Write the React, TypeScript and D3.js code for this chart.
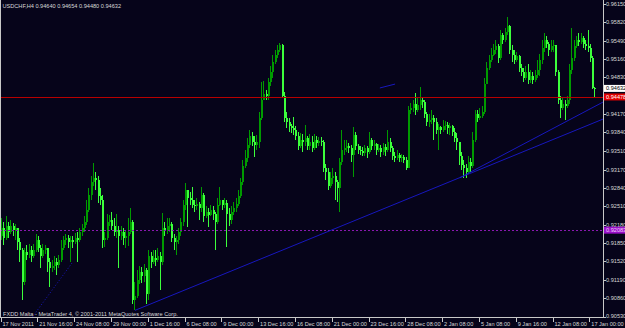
import React from "react";
import * as d3 from "d3";

const W = 625;
const H = 328;
const PLOT_RIGHT = 603;
const PLOT_BOTTOM = 317;

const symbolTitle = "USDCHF,H4  0.94640 0.94654 0.94480 0.94632";
const copyright = "FXDD Malta - MetaTrader 4, \u00a9 2001-2011 MetaQuotes Software Corp.";

const firstOpen = 0.9197;

const closes = [
  0.9212, 0.9194, 0.9215, 0.9205, 0.9215, 0.9208, 0.9212, 0.9187, 0.9172, 0.9115,
  0.9169, 0.9163, 0.9172, 0.9161, 0.9172, 0.919, 0.9176, 0.9161, 0.9172, 0.9176,
  0.9151, 0.914, 0.9143, 0.9151, 0.9145, 0.9154, 0.9176, 0.919, 0.9194, 0.9187,
  0.919, 0.9187, 0.9194, 0.919, 0.9205, 0.9212, 0.9223, 0.9244, 0.9271, 0.9295,
  0.9302, 0.9298, 0.9269, 0.9262, 0.919, 0.9194, 0.9223, 0.9226, 0.9215, 0.9205,
  0.9208, 0.9197, 0.9205, 0.9194, 0.9197, 0.9205, 0.9223, 0.9082, 0.9089, 0.9118,
  0.9133, 0.9125, 0.9136, 0.9093, 0.9161, 0.9151, 0.9158, 0.9154, 0.9161, 0.9151,
  0.9212, 0.9208, 0.9215, 0.9219, 0.9194, 0.9187, 0.919, 0.9205, 0.9223, 0.9253,
  0.928, 0.9266, 0.9262, 0.9253, 0.9251, 0.9255, 0.9248, 0.9271, 0.9233, 0.9241,
  0.9235, 0.9244, 0.9237, 0.9223, 0.9253, 0.9262, 0.9253, 0.9257, 0.9237, 0.9226,
  0.9241, 0.9248, 0.9255, 0.9269, 0.9295, 0.9323, 0.9338, 0.9361, 0.9377, 0.9367,
  0.9361, 0.9367, 0.941, 0.9442, 0.9453, 0.9449, 0.9475, 0.9493, 0.9511, 0.9523,
  0.9532, 0.9541, 0.9449, 0.941, 0.9403, 0.9395, 0.9392, 0.9388, 0.9377, 0.9359,
  0.937, 0.9367, 0.9374, 0.9359, 0.9367, 0.9356, 0.937, 0.9365, 0.9368, 0.9367,
  0.932, 0.9313, 0.9287, 0.9302, 0.9305, 0.9295, 0.9284, 0.9331, 0.9352, 0.9356,
  0.9359, 0.9356, 0.9343, 0.9379, 0.9359, 0.9352, 0.935, 0.9347, 0.9356, 0.9349,
  0.937, 0.9359, 0.9363, 0.9352, 0.9356, 0.9349, 0.9358, 0.9352, 0.9367, 0.9356,
  0.9341, 0.9338, 0.9343, 0.9338, 0.934, 0.9334, 0.932, 0.9424, 0.9428, 0.9435,
  0.9424, 0.9433, 0.9442, 0.9439, 0.9417, 0.9403, 0.9406, 0.941, 0.9403, 0.9388,
  0.9394, 0.9388, 0.9395, 0.9397, 0.9392, 0.9395, 0.9385, 0.9374, 0.9367, 0.9341,
  0.9325, 0.932, 0.9313, 0.9331, 0.9323, 0.937, 0.9417, 0.941, 0.9413, 0.9421,
  0.9471, 0.95, 0.9514, 0.9523, 0.9532, 0.9539, 0.9518, 0.9559, 0.955, 0.9565,
  0.9575, 0.9532, 0.9523, 0.9514, 0.9521, 0.95, 0.9493, 0.9482, 0.9493, 0.9478,
  0.9485, 0.9478, 0.9487, 0.9496, 0.9514, 0.9536, 0.955, 0.9543, 0.9532, 0.9539,
  0.9541, 0.9493, 0.9442, 0.9428, 0.9435, 0.9431, 0.9442, 0.9496, 0.9518, 0.9539,
  0.955, 0.9547, 0.9554, 0.9543, 0.9539, 0.9536, 0.9518, 0.9464, 0.94632,
];

const highs = [
  0.923, 0.9223, 0.9233, 0.9223, 0.9226, 0.9221, 0.9219, 0.9212, 0.9194, 0.9176,
  0.9176, 0.9181, 0.9183, 0.9179, 0.9183, 0.9201, 0.9197, 0.9181, 0.9183, 0.9181,
  0.9176, 0.9158, 0.9154, 0.9161, 0.9158, 0.9163, 0.919, 0.9197, 0.9201, 0.9199,
  0.9197, 0.9197, 0.9203, 0.9205, 0.9212, 0.9219, 0.9233, 0.9262, 0.9284, 0.9305,
  0.9329, 0.9313, 0.9305, 0.9284, 0.9271, 0.9205, 0.9237, 0.9235, 0.9241, 0.923,
  0.9237, 0.9215, 0.9215, 0.9212, 0.9208, 0.923, 0.9248, 0.9226, 0.9115, 0.9136,
  0.9143, 0.9142, 0.9147, 0.914, 0.9172, 0.9169, 0.9172, 0.9172, 0.9176, 0.9169,
  0.9239, 0.9223, 0.923, 0.923, 0.9223, 0.9201, 0.9197, 0.9212, 0.923, 0.9262,
  0.9293, 0.928, 0.9277, 0.9286, 0.9262, 0.9266, 0.9259, 0.9286, 0.9275, 0.9251,
  0.9248, 0.9253, 0.9251, 0.9241, 0.9266, 0.9286, 0.9262, 0.9266, 0.9262, 0.9248,
  0.9251, 0.9259, 0.9266, 0.928, 0.9302, 0.9334, 0.9352, 0.9374, 0.9388, 0.9385,
  0.9377, 0.9379, 0.9421, 0.9475, 0.9476, 0.946, 0.9482, 0.9503, 0.9523, 0.9532,
  0.9541, 0.9545, 0.9543, 0.9457, 0.9421, 0.941, 0.9399, 0.9412, 0.9395, 0.9385,
  0.9383, 0.9381, 0.9397, 0.9377, 0.9381, 0.9377, 0.9381, 0.9377, 0.9376, 0.9376,
  0.937, 0.9327, 0.932, 0.9313, 0.932, 0.9313, 0.9298, 0.9338, 0.9388, 0.937,
  0.937, 0.9365, 0.9361, 0.9394, 0.9385, 0.9363, 0.9359, 0.9358, 0.9361, 0.9359,
  0.9385, 0.9374, 0.937, 0.9365, 0.9363, 0.9361, 0.9365, 0.9363, 0.9388, 0.9374,
  0.9359, 0.9349, 0.9352, 0.9347, 0.9345, 0.9343, 0.934, 0.9431, 0.9437, 0.9442,
  0.9455, 0.9446, 0.9466, 0.9448, 0.9442, 0.9421, 0.9417, 0.9424, 0.9415, 0.941,
  0.9399, 0.9395, 0.9406, 0.9404, 0.9403, 0.9401, 0.9397, 0.9392, 0.9383, 0.9367,
  0.9349, 0.9334, 0.9327, 0.9341, 0.9338, 0.9385, 0.9424, 0.9424, 0.9428, 0.9431,
  0.9482, 0.9511, 0.9523, 0.9536, 0.9543, 0.955, 0.9543, 0.9568, 0.9563, 0.9572,
  0.9592, 0.9577, 0.9541, 0.9532, 0.9529, 0.9523, 0.9507, 0.95, 0.9503, 0.9507,
  0.9496, 0.9493, 0.9496, 0.9514, 0.9525, 0.955, 0.9563, 0.9557, 0.9547, 0.955,
  0.955, 0.9541, 0.9496, 0.9449, 0.9446, 0.9442, 0.9449, 0.9507, 0.9572, 0.955,
  0.9557, 0.9563, 0.9563, 0.9557, 0.955, 0.9568, 0.9543, 0.9521, 0.94654,
];

const lows = [
  0.919, 0.9181, 0.919, 0.9194, 0.9201, 0.9197, 0.919, 0.9172, 0.9151, 0.9082,
  0.9109, 0.9154, 0.9158, 0.9151, 0.9158, 0.9169, 0.9169, 0.914, 0.9158, 0.9165,
  0.9133, 0.9106, 0.9133, 0.9136, 0.9127, 0.914, 0.9151, 0.9172, 0.9181, 0.9176,
  0.9151, 0.9176, 0.9183, 0.9151, 0.9187, 0.9197, 0.9205, 0.9217, 0.9241, 0.9262,
  0.9287, 0.928, 0.9257, 0.9253, 0.9176, 0.9178, 0.919, 0.9215, 0.9208, 0.9197,
  0.9194, 0.914, 0.919, 0.9181, 0.9176, 0.9179, 0.9201, 0.9075, 0.9064, 0.9086,
  0.9111, 0.9113, 0.9115, 0.9075, 0.9082, 0.914, 0.9147, 0.9143, 0.9151, 0.91,
  0.9145, 0.9197, 0.9201, 0.9205, 0.9187, 0.9172, 0.9163, 0.9183, 0.9197, 0.9215,
  0.9244, 0.9214, 0.9253, 0.9248, 0.9241, 0.9244, 0.9226, 0.9241, 0.9223, 0.923,
  0.9214, 0.9233, 0.9226, 0.9172, 0.9219, 0.9251, 0.9244, 0.9248, 0.9178, 0.9215,
  0.9219, 0.9235, 0.9241, 0.9251, 0.9266, 0.9289, 0.932, 0.9331, 0.9356, 0.9359,
  0.934, 0.9352, 0.9356, 0.9406, 0.9442, 0.9442, 0.9442, 0.9467, 0.9482, 0.9507,
  0.9518, 0.9529, 0.9446, 0.9403, 0.9392, 0.9385, 0.9383, 0.9379, 0.937, 0.9352,
  0.9356, 0.9349, 0.9359, 0.9352, 0.9352, 0.9349, 0.9352, 0.9356, 0.9359, 0.9359,
  0.9313, 0.9298, 0.928, 0.9284, 0.9291, 0.9262, 0.9259, 0.9241, 0.9325, 0.9343,
  0.9349, 0.9347, 0.9331, 0.9304, 0.9352, 0.9345, 0.9343, 0.9341, 0.9341, 0.9338,
  0.9345, 0.9352, 0.9352, 0.9343, 0.9349, 0.934, 0.9343, 0.9341, 0.9349, 0.9349,
  0.9334, 0.9331, 0.9334, 0.9331, 0.9331, 0.9329, 0.9316, 0.932, 0.9417, 0.9421,
  0.9415, 0.9421, 0.9424, 0.9428, 0.941, 0.9395, 0.9394, 0.9399, 0.937, 0.9381,
  0.9352, 0.9381, 0.9385, 0.9388, 0.9381, 0.9379, 0.9377, 0.9367, 0.9352, 0.9325,
  0.9316, 0.9302, 0.9302, 0.9309, 0.9313, 0.932, 0.9367, 0.9403, 0.9406, 0.941,
  0.9417, 0.9471, 0.9496, 0.9511, 0.9521, 0.9525, 0.9509, 0.9514, 0.9543, 0.9547,
  0.9559, 0.9525, 0.9511, 0.9507, 0.9511, 0.9493, 0.9485, 0.9475, 0.9478, 0.9471,
  0.9473, 0.9471, 0.9475, 0.9482, 0.9485, 0.9507, 0.9529, 0.9536, 0.9521, 0.9529,
  0.9529, 0.9485, 0.9435, 0.941, 0.9424, 0.9406, 0.9428, 0.9435, 0.949, 0.9512,
  0.9536, 0.9539, 0.9543, 0.9536, 0.9532, 0.9529, 0.9511, 0.9462, 0.9448,
];

const timeLabels = [
  "17 Nov 2011", "21 Nov 16:00", "24 Nov 08:00", "29 Nov 00:00", "1 Dec 16:00",
  "6 Dec 08:00", "9 Dec 00:00", "13 Dec 16:00", "16 Dec 08:00", "21 Dec 00:00",
  "23 Dec 16:00", "28 Dec 08:00", "2 Jan 08:00", "5 Jan 08:00", "9 Jan 16:00",
  "12 Jan 08:00", "17 Jan 00:00",
];
const barsPerLabel = 16;

const priceTicks = [
  0.9615, 0.9582, 0.9549, 0.9516, 0.9483, 0.9417, 0.9384, 0.9351, 0.9317,
  0.9284, 0.9251, 0.9218, 0.9185, 0.9152, 0.9119, 0.9086, 0.9053,
];

const bidPrice = 0.94632;
const redLevel = 0.94478;
const purpleLevel = 0.92083;

// trend lines: [barIndex, price] pairs
const trendA = [[57.8, 0.9064], [261.3, 0.9408]];
const trendB = [[199.1, 0.93027], [261.3, 0.94386]];
const trendDotted = [[13.2, 0.9052], [30.4, 0.9149]];
const shortSegment = [[164.3, 0.9464], [170.9, 0.9471]];

const BG = "#06041a";
const BULL = "#009a00";
const BEAR = "#3cff3c";
const TXT = "#d8d8d8";
const FONT = "'Liberation Sans', Arial, sans-serif";
const FS = 5.6;

export default function App() {
  const x = d3.scaleLinear().domain([0, 256]).range([0.5, 589.3]);
  const y = d3.scaleLinear().domain([0.9053, 0.9615]).range([316.5, 4]);

  const bars = closes.map((c, i) => {
    const o = i === 0 ? firstOpen : closes[i - 1];
    return { i, o, c, h: highs[i], l: lows[i] };
  });

  const line = (pts: number[][], extend: boolean) => {
    const [a, b] = pts;
    const x1 = x(a[0]) + 1.5, y1 = y(a[1]);
    let x2 = x(b[0]) + 1.5, y2 = y(b[1]);
    if (extend) {
      const s = (y2 - y1) / (x2 - x1);
      y2 = y1 + s * (PLOT_RIGHT - x1);
      x2 = PLOT_RIGHT;
    }
    return { x1, y1, x2, y2 };
  };

  const lA = line(trendA, true);
  const lB = line(trendB, true);
  const lD = line(trendDotted, false);
  const lS = line(shortSegment, false);

  const boxes = [
    { v: bidPrice, fill: "#ffffff", txt: "#000000" },
    { v: redLevel, fill: "#e00000", txt: "#ffffff" },
    { v: purpleLevel, fill: "#9a10c8", txt: "#f0d0ff" },
  ];

  return (
    <svg
      width={W}
      height={H}
      style={{ position: "absolute", left: 0, top: 0, display: "block" }}
      fontFamily={FONT}
    >
      <defs>
        <clipPath id="plot">
          <rect x={0} y={0} width={PLOT_RIGHT} height={PLOT_BOTTOM} />
        </clipPath>
      </defs>
      <rect x={0} y={0} width={W} height={H} fill={BG} />
      <g clipPath="url(#plot)" shapeRendering="crispEdges">
        {bars.map((b) => {
          const cx = Math.round(x(b.i) + 1.5);
          const up = b.c >= b.o;
          const col = up ? BULL : BEAR;
          const top = y(Math.max(b.o, b.c));
          const bh = Math.max(1, Math.abs(y(b.o) - y(b.c)));
          return (
            <g key={b.i}>
              <rect x={cx - 1} y={y(b.h)} width={1} height={Math.max(1, y(b.l) - y(b.h))} fill={col} />
              <rect x={cx - 1} y={top} width={2} height={bh} fill={col} />
            </g>
          );
        })}
      </g>
      <g clipPath="url(#plot)">
        <line x1={0} x2={PLOT_RIGHT} y1={Math.round(y(redLevel)) + 0.5} y2={Math.round(y(redLevel)) + 0.5} stroke="#b80000" strokeWidth={1} />
        <line x1={0} x2={PLOT_RIGHT} y1={Math.round(y(purpleLevel)) + 0.5} y2={Math.round(y(purpleLevel)) + 0.5} stroke="#8a18b0" strokeWidth={1} strokeDasharray="2,2" />
        <line {...lA} stroke="#1a1ad0" strokeWidth={0.9} />
        <line {...lB} stroke="#1a1ad0" strokeWidth={0.9} />
        <line {...lD} stroke="#1a1ad0" strokeWidth={0.9} strokeDasharray="1,2" />
        <line {...lS} stroke="#1a1ad0" strokeWidth={0.9} />
      </g>

      {/* axes */}
      <g shapeRendering="crispEdges" stroke="#c8c8c8">
        <line x1={PLOT_RIGHT + 0.5} x2={PLOT_RIGHT + 0.5} y1={0} y2={PLOT_BOTTOM + 1} />
        <line x1={0} x2={PLOT_RIGHT + 1} y1={PLOT_BOTTOM + 0.5} y2={PLOT_BOTTOM + 0.5} />
        <line x1={0.5} x2={0.5} y1={0} y2={PLOT_BOTTOM} />
        {priceTicks.map((p) => (
          <line key={p} x1={PLOT_RIGHT} x2={PLOT_RIGHT + 3} y1={Math.round(y(p)) + 0.5} y2={Math.round(y(p)) + 0.5} />
        ))}
        {timeLabels.map((t, k) => {
          const tx = Math.round(x(k * barsPerLabel)) + 0.5;
          return <line key={t} x1={tx} x2={tx} y1={PLOT_BOTTOM} y2={PLOT_BOTTOM + 5} />;
        })}
      </g>

      <g fill={TXT} fontSize={FS}>
        {priceTicks.map((p) => (
          <text key={p} x={606} y={y(p)} dy="0.35em">
            {p.toFixed(5)}
          </text>
        ))}
        {timeLabels.map((t, k) => (
          <text key={t} x={x(k * barsPerLabel) + 2} y={325.5}>
            {t}
          </text>
        ))}
        <text x={2.5} y={8}>{symbolTitle}</text>
        <text x={3} y={315.5}>{copyright}</text>
      </g>

      {boxes.map((b) => (
        <g key={b.v}>
          <rect x={604} y={y(b.v) - 3.5} width={21} height={7} fill={b.fill} />
          <text x={606} y={y(b.v)} dy="0.35em" fontSize={FS} fill={b.txt}>
            {b.v.toFixed(5)}
          </text>
        </g>
      ))}
    </svg>
  );
}
